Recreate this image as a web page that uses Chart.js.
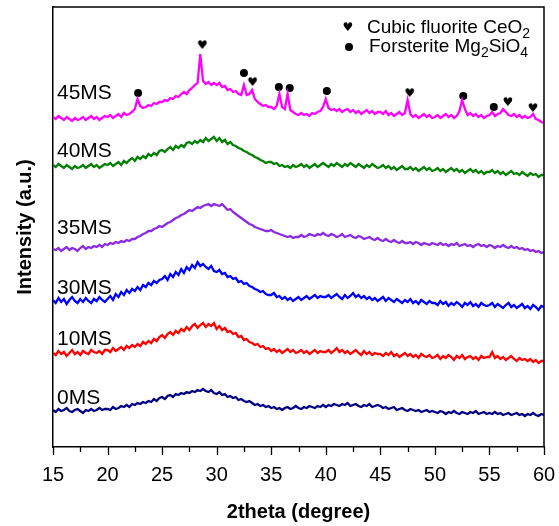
<!DOCTYPE html>
<html>
<head>
<meta charset="utf-8">
<script src="https://cdn.jsdelivr.net/npm/chart.js@4.4.1/dist/chart.umd.min.js"></script>
<style>
  html, body { margin: 0; padding: 0; background: #fff; }
  #xrd { display: block; }
</style>
</head>
<body>
<canvas id="xrd" width="559" height="526"></canvas>
<script>
// 2theta grid: 15 -> 60 deg, 0.25 deg per point
const thetaStart = 15;
const thetaStep = 0.25;

const sampleNames = ['0MS', '10MS', '30MS', '35MS', '40MS', '45MS'];
const sampleColors = ['#000080', '#ff0000', '#0000ff', '#8a2be2', '#008000', '#ff00ff'];
// where each name sits (y in stacked intensity units)
const labelHeights = [43, 102, 153, 213, 290, 348];

// stacked intensities (a.u., offset already included), one row = 5 degrees
const ms0 = [
  37,35,38,36,37,39,36,35,37,38,36,34,37,36,38,36,37,39,37,38,
  38,37,40,38,39,41,40,42,40,43,42,44,43,45,44,46,45,48,46,49,
  50,48,51,52,50,53,52,54,53,55,54,56,55,57,56,58,56,55,57,54,
  53,55,52,53,50,51,49,50,47,48,46,45,46,44,42,43,41,42,40,41,
  39,40,38,39,37,39,40,38,39,41,39,38,40,39,41,40,39,41,40,42,
  40,42,41,43,42,41,43,42,44,41,42,43,41,40,42,41,43,40,41,42,
  41,39,40,38,39,40,37,38,39,37,36,38,37,36,37,35,36,37,35,36,
  35,34,36,35,33,35,34,36,34,33,35,34,33,35,34,36,33,34,35,33,
  34,33,35,33,34,32,33,34,32,33,34,32,33,31,33,32,34,32,31,33,
  32
];
const ms10 = [
  94,92,96,93,95,91,94,97,93,95,92,96,94,93,97,95,94,96,93,97,
  97,95,99,96,98,100,97,101,99,102,100,103,101,105,103,106,104,108,106,110,
  112,109,113,115,112,116,114,118,116,120,117,121,123,119,122,124,120,123,121,124,
  118,121,117,119,115,116,113,114,110,111,107,108,105,104,102,103,100,101,98,99,
  96,98,95,97,94,96,98,95,97,94,95,97,94,96,93,95,97,94,96,95,
  95,97,94,96,99,95,97,94,96,93,95,97,94,92,96,93,95,92,94,93,
  93,91,94,92,95,91,93,90,92,94,91,93,90,92,89,93,91,90,92,89,
  90,92,88,91,89,92,90,87,91,89,92,88,90,91,88,90,87,91,89,90,
  90,95,89,91,88,90,87,89,91,88,86,89,87,88,86,88,85,87,84,86,
  86
];
const ms30 = [
  147,144,149,145,148,143,147,150,146,144,148,145,149,146,144,148,146,150,147,145,
  148,151,147,153,150,155,152,157,154,158,156,160,157,162,160,164,162,166,164,167,
  168,171,167,173,170,175,172,178,174,180,177,182,179,185,181,183,180,178,181,176,
  175,177,173,174,170,171,168,169,165,166,163,164,161,160,158,157,155,156,153,152,
  152,154,150,151,148,150,147,149,146,148,150,147,149,151,148,150,152,149,151,150,
  150,152,149,151,153,150,148,152,149,151,154,150,152,149,151,148,150,147,149,146,
  148,150,146,149,147,145,148,146,144,147,145,148,144,146,143,147,145,143,146,144,
  144,142,146,143,145,141,144,142,145,143,140,144,142,145,141,143,140,144,142,141,
  142,144,140,143,141,139,142,144,140,142,139,141,143,139,141,138,142,140,137,141,
  140
];
const ms35 = [
  198,197,199,196,198,200,197,199,198,196,199,201,198,200,199,201,200,202,200,203,
  202,204,203,205,204,206,205,207,206,208,208,210,211,213,214,216,216,218,219,221,
  220,222,224,225,227,229,230,232,233,235,237,236,238,240,239,241,242,243,241,243,
  242,241,243,240,237,238,235,233,231,229,227,225,223,222,220,219,218,217,216,216,
  217,215,214,213,212,211,210,211,209,210,210,212,210,211,213,212,211,213,212,214,
  212,211,213,212,210,211,213,210,211,212,210,209,211,210,208,209,210,208,207,209,
  207,206,208,206,205,207,205,204,206,204,204,205,203,205,204,202,204,203,202,204,
  203,202,204,202,203,201,203,202,204,201,202,203,201,202,200,202,203,201,202,200,
  202,201,199,201,200,202,200,199,201,199,200,198,199,197,198,196,197,195,196,194,
  195
];
const ms40 = [
  282,280,283,281,279,282,280,278,281,279,280,282,279,281,283,280,282,279,281,283,
  282,284,281,283,285,282,286,284,287,289,286,290,288,291,289,293,291,294,292,296,
  297,295,298,300,297,301,299,302,300,304,305,303,306,304,307,305,309,306,308,310,
  306,309,305,307,303,305,302,301,299,298,296,295,293,292,290,289,287,286,284,285,
  285,283,284,281,282,280,281,279,282,280,281,283,280,282,279,281,283,280,282,284,
  282,280,283,281,284,282,280,283,281,284,282,280,283,281,279,282,280,283,281,279,
  280,282,279,281,278,280,277,279,281,278,278,280,277,279,276,278,280,277,279,276,
  277,279,276,278,275,277,279,276,278,275,277,274,276,278,275,277,274,276,273,275,
  275,277,274,276,273,275,272,274,276,273,274,272,275,273,271,274,272,273,270,272,
  272
];
const ms45 = [
  330,328,331,329,327,330,328,326,329,327,328,330,327,329,331,328,330,327,329,331,
  330,332,329,331,333,330,334,332,333,335,338,348,341,339,340,342,341,344,343,345,
  345,347,346,349,348,351,350,353,355,353,357,359,362,364,393,366,363,365,362,364,
  362,364,360,361,357,358,355,356,353,352,362,352,353,357,348,345,343,341,342,340,
  340,338,341,353,340,338,353,337,335,333,332,334,332,333,331,334,333,335,336,340,
  348,339,337,338,336,338,335,337,338,335,337,334,336,333,335,337,334,336,333,335,
  335,333,336,332,334,331,333,335,332,334,347,333,330,332,329,331,333,330,332,329,
  330,332,329,331,333,330,332,329,331,336,347,338,332,334,331,333,330,332,329,331,
  332,335,331,333,334,338,335,332,331,333,330,332,329,331,329,330,333,328,327,325,
  324
];
const seriesValues = [ms0, ms10, ms30, ms35, ms40, ms45];

// phase markers above the 45MS pattern
const heartTheta = [28.7, 33.3, 47.7, 56.7, 59.0];
const heartHeight = [402, 365, 354, 345, 339];
const dotTheta = [22.8, 32.5, 35.7, 36.7, 40.1, 52.6, 55.4];
const dotHeight = [354, 374, 360, 359, 356, 351, 340];

const xTicksMajor = [15, 20, 25, 30, 35, 40, 45, 50, 55, 60];
const xTicksMinor = [17.5, 22.5, 27.5, 32.5, 37.5, 42.5, 47.5, 52.5, 57.5];

function toPoints(values) {
  return values.map((v, i) => ({ x: thetaStart + i * thetaStep, y: v }));
}

function heartImage() {
  const c = document.createElement('canvas');
  c.width = 12;
  c.height = 12;
  const g = c.getContext('2d');
  g.fillStyle = '#000';
  g.font = 'bold 12px "DejaVu Sans"';
  g.textAlign = 'center';
  g.textBaseline = 'middle';
  g.fillText('\u2665', 6, 7);
  return c;
}

const datasets = sampleNames.map((name, k) => ({
  type: 'line',
  label: name,
  data: toPoints(seriesValues[k]),
  borderColor: sampleColors[k],
  borderWidth: 2.3,
  pointRadius: 0,
  tension: 0
}));
datasets.push({
  type: 'scatter',
  label: 'Cubic fluorite CeO2',
  data: heartTheta.map((t, i) => ({ x: t, y: heartHeight[i] })),
  pointStyle: heartImage(),
  pointRadius: 6
});
datasets.push({
  type: 'scatter',
  label: 'Forsterite Mg2SiO4',
  data: dotTheta.map((t, i) => ({ x: t, y: dotHeight[i] })),
  pointStyle: 'circle',
  pointRadius: 4,
  backgroundColor: '#000',
  borderColor: '#000',
  borderWidth: 0
});

function drawTicks(ctx, scale, values, bottom, len) {
  ctx.beginPath();
  values.forEach(t => {
    const px = Math.round(scale.getPixelForValue(t)) + 0.5;
    ctx.moveTo(px, bottom);
    ctx.lineTo(px, bottom + len);
  });
  ctx.stroke();
}

// frame, ticks, sample names and the phase legend
const decorations = {
  id: 'decorations',
  afterDraw(chart) {
    const ctx = chart.ctx;
    const area = chart.chartArea;
    const x = chart.scales.x;
    const y = chart.scales.y;
    ctx.save();
    ctx.strokeStyle = '#000';
    ctx.lineWidth = 1.5;
    ctx.beginPath();
    ctx.moveTo(area.left, area.top);
    ctx.lineTo(area.right, area.top);
    ctx.lineTo(area.right, area.bottom);
    ctx.stroke();

    ctx.lineWidth = 1.3;
    drawTicks(ctx, x, xTicksMajor, area.bottom, 8);
    drawTicks(ctx, x, xTicksMinor, area.bottom, 5);

    ctx.fillStyle = '#000';
    ctx.font = '21px "Liberation Sans", Arial, sans-serif';
    ctx.textBaseline = 'alphabetic';
    sampleNames.forEach((name, k) => {
      ctx.fillText(name, area.left + 4, y.getPixelForValue(labelHeights[k]));
    });

    // legend
    ctx.drawImage(heartImage(), 342, 21);
    ctx.beginPath();
    ctx.arc(349, 47, 4, 0, Math.PI * 2);
    ctx.fill();
    drawFormula(ctx, 367, 33, [['Cubic fluorite CeO', false], ['2', true]]);
    drawFormula(ctx, 369, 52, [['Forsterite Mg', false], ['2', true], ['SiO', false], ['4', true]]);
    ctx.restore();
  }
};

function drawFormula(ctx, x, y, parts) {
  let cx = x;
  parts.forEach(([text, sub]) => {
    ctx.font = sub ? '14px "Liberation Sans", Arial, sans-serif' : '19px "Liberation Sans", Arial, sans-serif';
    ctx.fillText(text, cx, sub ? y + 5 : y);
    cx += ctx.measureText(text).width;
  });
}

new Chart(document.getElementById('xrd'), {
  data: { datasets: datasets },
  options: {
    responsive: false,
    animation: false,
    devicePixelRatio: 1,
    layout: { padding: { left: 9, right: 15, top: 5, bottom: 0 } },
    plugins: {
      legend: { display: false },
      tooltip: { enabled: false }
    },
    scales: {
      x: {
        type: 'linear',
        min: 15,
        max: 60,
        afterBuildTicks: (scale) => { scale.ticks = xTicksMajor.map(v => ({ value: v })); },
        // tick marks are drawn by the plugin; the long transparent ones only push labels down
        grid: { drawOnChartArea: false, drawTicks: true, tickLength: 13, tickColor: 'rgba(0,0,0,0)' },
        border: { display: true, color: '#000', width: 1.5 },
        ticks: {
          color: '#000',
          padding: 3,
          maxRotation: 0,
          font: { family: '"Liberation Sans", Arial, sans-serif', size: 20 }
        },
        title: {
          display: true,
          text: '2theta (degree)',
          color: '#000',
          padding: { top: 10, bottom: 2 },
          font: { family: '"Liberation Sans", Arial, sans-serif', size: 20, weight: 'bold' }
        }
      },
      y: {
        min: 0,
        max: 440,
        grid: { display: false, drawTicks: false },
        border: { display: true, color: '#000', width: 1.5 },
        ticks: { display: false },
        title: {
          display: true,
          text: 'Intensity (a.u.)',
          color: '#000',
          padding: { top: 4, bottom: 16 },
          font: { family: '"Liberation Sans", Arial, sans-serif', size: 20, weight: 'bold' }
        }
      }
    }
  },
  plugins: [decorations]
});
</script>
</body>
</html>
